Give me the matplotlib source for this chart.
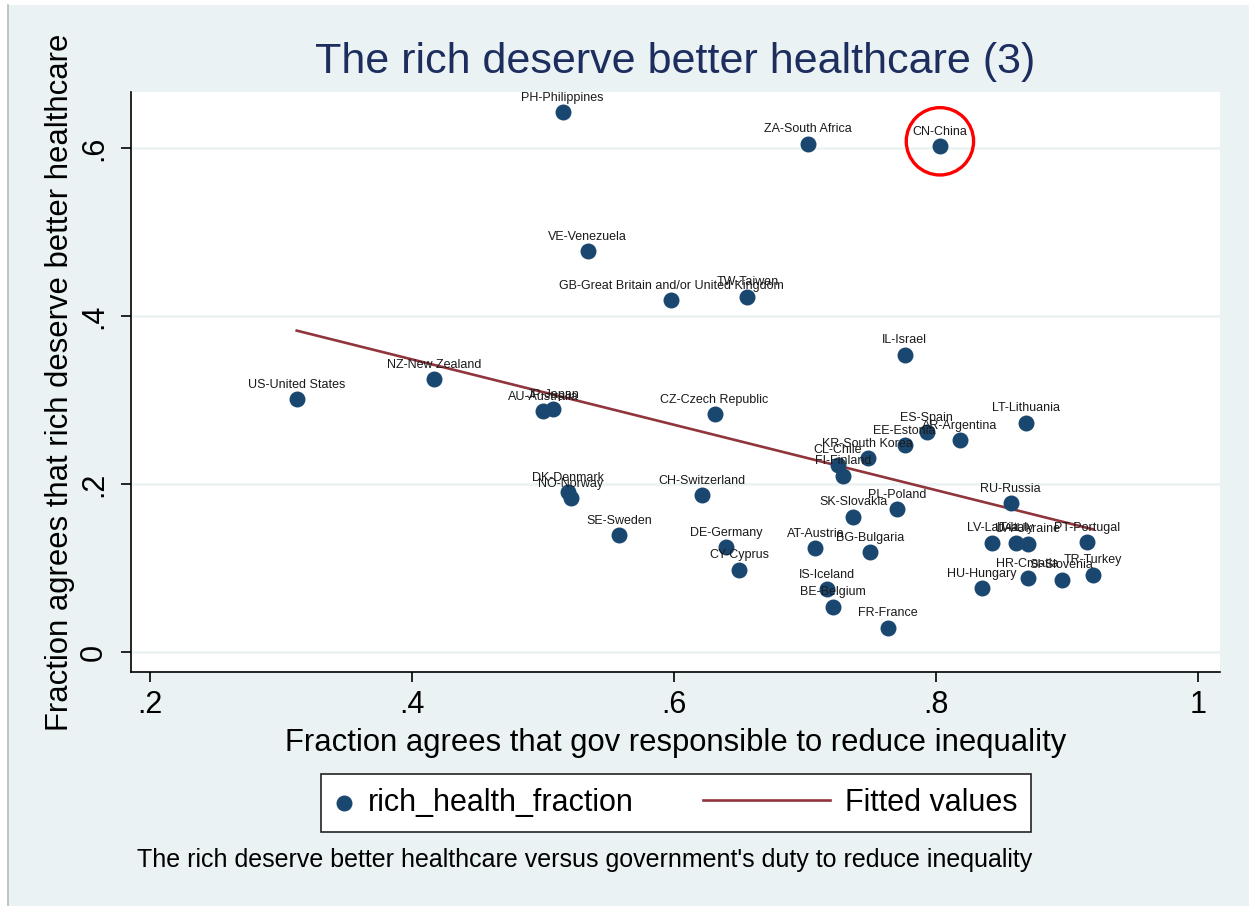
import numpy as np
import matplotlib
matplotlib.use('Agg')
import matplotlib.pyplot as plt
from matplotlib.patches import Rectangle
from matplotlib.legend_handler import HandlerLine2D

plt.rcParams['font.family'] = ['Liberation Sans', 'DejaVu Sans']

# country labels, x = gov responsible to reduce inequality, y = rich deserve better healthcare
countries = ['PH-Philippines', 'ZA-South Africa', 'CN-China', 'VE-Venezuela',
             'GB-Great Britain and/or United Kingdom', 'TW-Taiwan', 'IL-Israel',
             'NZ-New Zealand', 'US-United States', 'AU-Australia', 'JP-Japan',
             'CZ-Czech Republic', 'LT-Lithuania', 'ES-Spain', 'AR-Argentina',
             'EE-Estonia', 'KR-South Korea', 'CL-Chile', 'FI-Finland', 'RU-Russia',
             'PL-Poland', 'SK-Slovakia', 'DK-Denmark', 'NO-Norway', 'CH-Switzerland',
             'SE-Sweden', 'DE-Germany', 'CY-Cyprus', 'AT-Austria', 'BG-Bulgaria',
             'IS-Iceland', 'BE-Belgium', 'FR-France', 'LV-Latvia', 'IT-Italy',
             'UA-Ukraine', 'PT-Portugal', 'HU-Hungary', 'HR-Croatia', 'SI-Slovenia',
             'TR-Turkey']
gov_fraction = [0.515, 0.702, 0.803, 0.534, 0.598, 0.656, 0.776, 0.417, 0.312,
                0.500, 0.508, 0.631, 0.869, 0.793, 0.818, 0.776, 0.748, 0.725,
                0.729, 0.857, 0.770, 0.737, 0.519, 0.521, 0.621, 0.558, 0.640,
                0.650, 0.708, 0.750, 0.717, 0.721, 0.763, 0.843, 0.861, 0.870,
                0.915, 0.835, 0.870, 0.896, 0.920]
rich_health_fraction = [0.643, 0.605, 0.602, 0.477, 0.419, 0.423, 0.354, 0.325,
                        0.301, 0.287, 0.289, 0.283, 0.273, 0.262, 0.252, 0.246,
                        0.231, 0.223, 0.210, 0.177, 0.170, 0.161, 0.190, 0.183,
                        0.187, 0.139, 0.125, 0.098, 0.124, 0.119, 0.075, 0.054,
                        0.029, 0.130, 0.130, 0.129, 0.131, 0.076, 0.088, 0.086,
                        0.092]
x_ticks = [0.2, 0.4, 0.6, 0.8, 1.0]
x_tick_labels = ['.2', '.4', '.6', '.8', '1']
y_ticks = [0, 0.2, 0.4, 0.6]
y_tick_labels = ['0', '.2', '.4', '.6']

bg = '#EAF2F3'
navy = '#1A476F'
maroon = '#90353B'


class LongLine(HandlerLine2D):
    # legend line that reaches further left than the (short) handle box
    def create_artists(self, legend, orig_handle, xdescent, ydescent, width,
                       height, fontsize, trans):
        extra = 3.56 * fontsize
        return super().create_artists(legend, orig_handle, xdescent + extra,
                                      ydescent, width + extra, height,
                                      fontsize, trans)


x = np.array(gov_fraction)
y = np.array(rich_health_fraction)

fig = plt.figure(figsize=(12.49, 9.06), dpi=100, facecolor='white')
# stata-like outer background
fig.patches.append(Rectangle((7 / 1249, 0), 1 - 7 / 1249, 1 - 5 / 906,
                             transform=fig.transFigure, facecolor=bg,
                             edgecolor='none', zorder=-10))
fig.lines.append(plt.Line2D([7.5 / 1249, 7.5 / 1249], [0, 1 - 5 / 906],
                            transform=fig.transFigure, color='#BBBBBB', lw=1.2,
                            zorder=-9))

ax = fig.add_axes([131 / 1249, 234 / 906, 1089 / 1249, 580 / 906])
ax.set_facecolor('white')

ax.scatter(x, y, s=110, color=navy, zorder=3, label='rich_health_fraction')
for name, xi, yi in zip(countries, x, y):
    ax.annotate(name, (xi, yi), xytext=(0, 6), textcoords='offset points',
                ha='center', va='bottom', fontsize=9, color='#1a1a1a', zorder=4)

# linear fit
b, a = np.polyfit(x, y, 1)
xf = np.array([x.min(), x.max()])
fit_line, = ax.plot(xf, a + b * xf, color=maroon, lw=1.9, zorder=2,
                    label='Fitted values')

# circle around China
i = countries.index('CN-China')
ax.scatter([x[i]], [y[i] + 0.006], s=2350, facecolors='none', edgecolors='red',
           linewidths=2.4, zorder=5)

ax.set_xlim(0.1855, 1.0168)
ax.set_ylim(-0.0238, 0.6667)
ax.set_xticks(x_ticks)
ax.set_xticklabels(x_tick_labels)
ax.set_yticks(y_ticks)
ax.set_yticklabels(y_tick_labels, rotation=90, va='center')
ax.tick_params(axis='both', labelsize=22, length=7, width=1.2, pad=6)
ax.tick_params(axis='y', pad=9)
ax.grid(axis='y', color=bg, lw=1.8)
ax.set_axisbelow(True)
for side in ['top', 'right']:
    ax.spines[side].set_visible(False)
for side in ['left', 'bottom']:
    ax.spines[side].set_linewidth(1.2)

ax.set_xlabel('Fraction agrees that gov responsible to reduce inequality', fontsize=22.3)
ax.xaxis.set_label_coords(0.5, -0.097)
ax.set_ylabel('Fraction agrees that rich deserve better healthcare', fontsize=22.3)
ax.yaxis.set_label_coords(-0.051, 0.5)

fig.text(675 / 1249, 1 - 62 / 906, 'The rich deserve better healthcare (3)',
         ha='center', va='center', fontsize=31, color='#1C2D5E')

leg = fig.legend(loc='center', bbox_to_anchor=(676 / 1249, 1 - 803 / 906),
                 ncol=2, fontsize=22, frameon=True, fancybox=False,
                 edgecolor='#222222', framealpha=1, handlelength=0.6,
                 handletextpad=0.5, columnspacing=5.8, borderpad=0.45,
                 markerscale=1.0, handler_map={fit_line: LongLine()})
leg.get_frame().set_linewidth(1.2)

fig.text(137 / 1249, 1 - 860 / 906,
         "The rich deserve better healthcare versus government's duty to reduce inequality",
         ha='left', va='center', fontsize=18)

fig.savefig('out.png', dpi=100, facecolor=fig.get_facecolor())
